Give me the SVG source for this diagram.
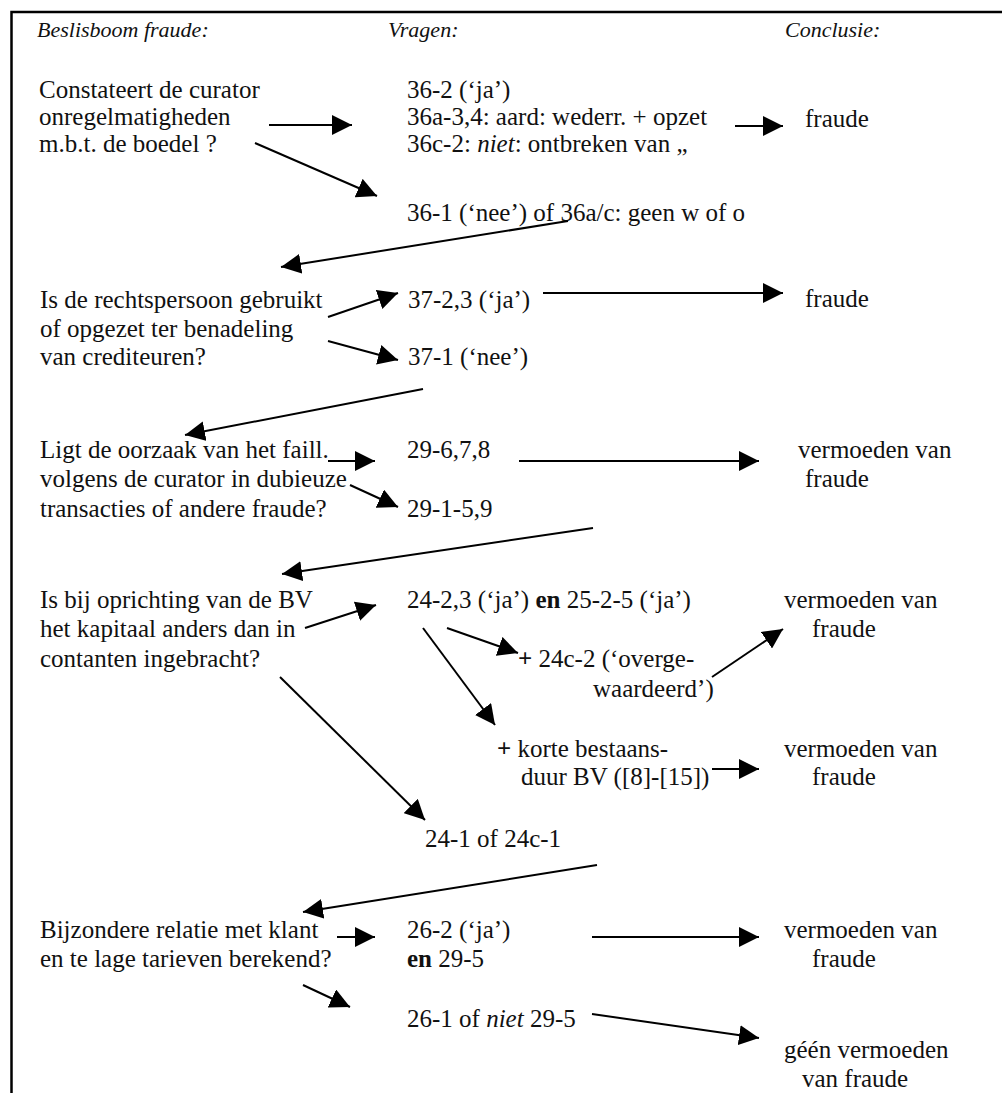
<svg xmlns="http://www.w3.org/2000/svg" width="1002" height="1093" viewBox="0 0 1002 1093" font-family="'Liberation Serif', 'DejaVu Serif', 'Times New Roman', serif">
<defs>
<marker id="ah" markerUnits="userSpaceOnUse" markerWidth="20" markerHeight="20" refX="20" refY="10" orient="auto" viewBox="0 0 20 20">
<path d="M0,0 L20,10 L0,20 z" fill="#000"/>
</marker>
<style>
text{font-family:'Liberation Serif','DejaVu Serif','Times New Roman',serif;font-size:25px;fill:#111;}
.h{font-style:italic;font-size:22px;}
.b{font-weight:bold;}
.i{font-style:italic;}
.c line{stroke:#000;stroke-width:2;marker-end:url(#ah);}
.frame{stroke:#000;stroke-width:2.5;fill:none;}
</style>
</defs>
<rect width="1002" height="1093" fill="#fff"/>
<path class="frame" d="M11.5,1093 V12 H1002"/>

<g id="headers">
<text class="h" x="37" y="37">Beslisboom fraude:</text>
<text class="h" x="388" y="37">Vragen:</text>
<text class="h" x="785" y="37">Conclusie:</text>
</g>

<g id="q1">
<text x="39" y="98">Constateert de curator</text>
<text x="39" y="125">onregelmatigheden</text>
<text x="39" y="152">m.b.t. de boedel ?</text>
</g>
<g id="a1">
<text x="407" y="98">36-2 (‘ja’)</text>
<text x="407" y="125">36a-3,4: aard: wederr. + opzet</text>
<text x="407" y="152">36c-2: <tspan class="i">niet</tspan>: ontbreken van „</text>
</g>
<g id="c1"><text x="805" y="127">fraude</text></g>
<g id="n1"><text x="407" y="221">36-1 (‘nee’) of 36a/c: geen w of o</text></g>

<g id="q2">
<text x="40" y="308">Is de rechtspersoon gebruikt</text>
<text x="40" y="337">of opgezet ter benadeling</text>
<text x="40" y="365">van crediteuren?</text>
</g>
<g id="a2"><text x="408" y="308">37-2,3 (‘ja’)</text></g>
<g id="c2"><text x="805" y="307">fraude</text></g>
<g id="n2"><text x="408" y="365">37-1 (‘nee’)</text></g>

<g id="q3">
<text x="40" y="458">Ligt de oorzaak van het faill.</text>
<text x="40" y="487">volgens de curator in dubieuze</text>
<text x="40" y="517">transacties of andere fraude?</text>
</g>
<g id="a3"><text x="407" y="458">29-6,7,8</text></g>
<g id="c3">
<text x="798" y="458">vermoeden van</text>
<text x="805" y="487">fraude</text>
</g>
<g id="n3"><text x="407" y="517">29-1-5,9</text></g>

<g id="q4">
<text x="40" y="608">Is bij oprichting van de BV</text>
<text x="40" y="637">het kapitaal anders dan in</text>
<text x="40" y="667">contanten ingebracht?</text>
</g>
<g id="a4"><text x="407" y="608">24-2,3 (‘ja’) <tspan class="b">en</tspan> 25-2-5 (‘ja’)</text></g>
<g id="c4a">
<text x="784" y="608">vermoeden van</text>
<text x="812" y="637">fraude</text>
</g>
<g id="p4a">
<text x="518" y="667"><tspan class="b">+</tspan> 24c-2 (‘overge-</text>
<text x="593" y="697">waardeerd’)</text>
</g>
<g id="p4b">
<text x="497" y="757"><tspan class="b">+</tspan> korte bestaans-</text>
<text x="521" y="785">duur BV ([8]-[15])</text>
</g>
<g id="c4b">
<text x="784" y="757">vermoeden van</text>
<text x="812" y="785">fraude</text>
</g>
<g id="n4"><text x="425" y="847">24-1 of 24c-1</text></g>

<g id="q5">
<text x="40" y="938">Bijzondere relatie met klant</text>
<text x="40" y="967">en te lage tarieven berekend?</text>
</g>
<g id="a5">
<text x="407" y="938">26-2 (‘ja’)</text>
<text x="407" y="967"><tspan class="b">en</tspan> 29-5</text>
</g>
<g id="c5a">
<text x="784" y="938">vermoeden van</text>
<text x="812" y="967">fraude</text>
</g>
<g id="n5"><text x="407" y="1027">26-1 of <tspan class="i">niet</tspan> 29-5</text></g>
<g id="c5b">
<text x="784" y="1058">géén vermoeden</text>
<text x="802" y="1087">van fraude</text>
</g>

<g id="connectors" class="c">
<line x1="269" y1="125" x2="352" y2="125"/>
<line x1="735" y1="126" x2="783" y2="126"/>
<line x1="255" y1="143" x2="377" y2="196"/>
<line x1="568" y1="221" x2="281" y2="267"/>
<line x1="328" y1="317" x2="398" y2="293"/>
<line x1="328" y1="341" x2="398" y2="360"/>
<line x1="543" y1="293" x2="783" y2="293"/>
<line x1="423" y1="389" x2="185" y2="435"/>
<line x1="328" y1="461" x2="375" y2="461"/>
<line x1="350" y1="485" x2="398" y2="507"/>
<line x1="519" y1="461" x2="759" y2="461"/>
<line x1="593" y1="528" x2="282" y2="574"/>
<line x1="305" y1="628" x2="376" y2="605"/>
<line x1="447" y1="628" x2="518" y2="653"/>
<line x1="712" y1="677" x2="783" y2="629"/>
<line x1="423" y1="628" x2="495" y2="725"/>
<line x1="712" y1="769" x2="759" y2="769"/>
<line x1="280" y1="677" x2="425" y2="820"/>
<line x1="597" y1="865" x2="303" y2="912"/>
<line x1="337" y1="937" x2="375" y2="937"/>
<line x1="303" y1="985" x2="350" y2="1007"/>
<line x1="592" y1="937" x2="759" y2="937"/>
<line x1="592" y1="1014" x2="759" y2="1038"/>
</g>
</svg>
